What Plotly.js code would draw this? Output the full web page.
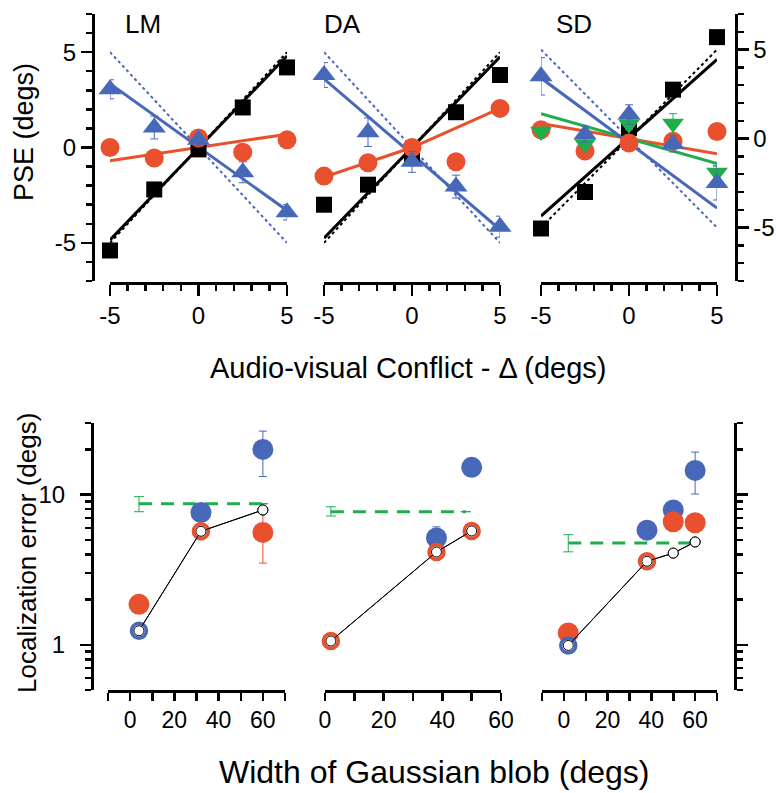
<!DOCTYPE html>
<html>
<head>
<meta charset="utf-8">
<script src="https://cdn.plot.ly/plotly-3.0.1.min.js"></script>
<style>html,body{margin:0;padding:0;background:#fff;}#chart{width:776px;height:793px;}</style>
</head>
<body>
<div id="chart"></div>
<script>
// ---------- DATA ----------
const conflict = [-5, -2.5, 0, 2.5, 5];
const fitX = [-5, 5];
const fitX3 = [-5, 0, 5];

// LM panel (PSE, degs)
const lmBlack = [-5.4, -2.2, -0.1, 2.1, 4.2];
const lmRed   = [0.0, -0.55, 0.5, -0.25, 0.4];
const lmBlue  = [3.05, 1.05, 0.4, -1.3, -3.4];
const lmBlueErr = [0.5, 0.6, 0.3, 0.55, 0.4];
const lmBlackFit = [-4.85, 4.8];
const lmRedFit = [-0.7, 0.7];
const lmBlueFit = [3.35, -3.3];

// DA panel
const daBlack = [-3.0, -1.95, -0.5, 1.85, 3.8];
const daRed   = [-1.5, -0.8, 0.0, -0.75, 2.05];
const daBlue  = [3.8, 0.8, -0.75, -2.05, -4.15];
const daBlueErr = [0.65, 0.75, 0.55, 0.6, 0.55];
const daBlackFit = [-4.75, 4.75];
const daRedFit = [-1.55, 0.0, 2.05];
const daBlueFit = [3.6, -4.3];

// SD panel (read against right-hand axis)
const sdBlack = [-5.05, -3.0, 0.6, 2.75, 5.7];
const sdRed   = [0.5, -0.7, -0.25, -0.15, 0.4];
const sdGreen = [0.4, -0.3, 0.8, 0.85, -1.9];
const sdGreenErr = [0.3, 0.3, 0.3, 0.55, 0.4];
const sdBlue  = [3.5, 0.25, 1.35, -0.3, -2.5];
const sdBlueErr = [1.05, 0.45, 0.55, 0.45, 0.95];
const sdBlackFit = [-4.35, 4.45];
const sdRedFit = [0.85, -0.85];
const sdGreenFit = [1.4, -1.4];
const sdBlueFit = [3.4, -3.9];

// ideal (dotted) predictions
const idealVisual = [-5, 5];
const idealAuditory = [5, -5];

// Bottom: localization error (degs) vs blob width (degs)
// LM
const lmW = [4, 32, 60];
const lmGreenX = [4, 60];   const lmGreenY = [8.7, 8.7]; const lmGreenErrP = [1.0, 0]; const lmGreenErrM = [1.0, 0];
const lmBlueFX = [32, 60];  const lmBlueFY = [7.6, 20];  const lmBlueFErrP = [0, 6.5]; const lmBlueFErrM = [0, 6.8];
const lmRedFX = [4, 60];    const lmRedFY = [1.86, 5.6]; const lmRedFErrP = [0, 2.0];  const lmRedFErrM = [0, 2.1];
const lmBlueRX = [4];       const lmBlueRY = [1.24];     const lmBlueRErrP = [0.26];   const lmBlueRErrM = [0.3];
const lmRedRX = [32];       const lmRedRY = [5.7];
const lmModel = [1.24, 5.7, 7.9];
// DA
const daW = [2, 38, 50];
const daGreenX = [2, 48];   const daGreenY = [7.7, 7.7]; const daGreenErrP = [0.6, 0]; const daGreenErrM = [0.5, 0];
const daBlueFX = [38, 50];  const daBlueFY = [5.15, 15.2]; const daBlueFErrP = [0.95, 0]; const daBlueFErrM = [0, 0];
const daRedRY = [1.06, 4.15, 5.73]; const daRedRErrP = [0.18, 0, 0]; const daRedRErrM = [0.22, 0, 0];
const daModel = [1.06, 4.15, 5.73];
// SD
const sdW = [2, 38, 50, 60];
const sdGreenX = [2, 59];   const sdGreenY = [4.76, 4.76]; const sdGreenErrP = [0.65, 0]; const sdGreenErrM = [0.6, 0];
const sdBlueFX = [38, 50, 60]; const sdBlueFY = [5.8, 7.9, 14.5]; const sdBlueFErrP = [0, 0, 4.7]; const sdBlueFErrM = [0, 0, 4.4];
const sdRedFX = [2, 50, 60]; const sdRedFY = [1.2, 6.6, 6.5]; const sdRedFErrP = [0, 0.5, 0.6]; const sdRedFErrM = [0, 0, 0];
const sdBlueRX = [2];       const sdBlueRY = [0.99];
const sdRedRX = [38];       const sdRedRY = [3.6];
const sdModel = [0.99, 3.6, 4.08, 4.84];

// ---------- STYLE ----------
const BLUE = '#4767b8', RED = '#e8502e', GREEN = '#1fae4b', BLACK = '#000000';
const W = 776, H = 793;
const px = v => v / W, py = v => 1 - v / H;
const traces = [];

function line(x, y, xa, ya, color, width, dash) {
  traces.push({x, y, xaxis: xa, yaxis: ya, mode: 'lines', line: {color, width, dash: dash || 'solid'}, hoverinfo: 'skip', showlegend: false, cliponaxis: false});
}
function pts(x, y, xa, ya, symbol, size, color, err, opts) {
  const t = {x, y, xaxis: xa, yaxis: ya, mode: 'markers', showlegend: false, cliponaxis: false,
    marker: Object.assign({symbol, size, color, line: {width: 0}}, opts || {})};
  if (err) t.error_y = Object.assign({type: 'data', color: err.color || color, thickness: 1, width: 4, visible: true}, err);
  traces.push(t);
}

// Top panels
function topPanel(xa, ya, black, red, blue, blueErr, blackFit, redFit, redFitX, blueFit, green, greenErr, greenFit) {
  line(fitX, idealAuditory, xa, ya, BLUE, 2, 'dot');
  line(fitX, idealVisual, xa, ya, BLACK, 2, 'dot');
  line(fitX, blackFit, xa, ya, BLACK, 3);
  line(redFitX, redFit, xa, ya, RED, 3);
  if (greenFit) line(fitX, greenFit, xa, ya, GREEN, 3);
  line(fitX, blueFit, xa, ya, BLUE, 3);
  pts(conflict, black, xa, ya, 'square', 16, BLACK);
  pts(conflict, red, xa, ya, 'circle', 19, RED);
  if (green) pts(conflict, green, xa, ya, 'triangle-down', 19, GREEN, {array: greenErr});
  pts(conflict, blue, xa, ya, 'triangle-up', 20, BLUE, {array: blueErr});
}
topPanel('x', 'y', lmBlack, lmRed, lmBlue, lmBlueErr, lmBlackFit, lmRedFit, fitX, lmBlueFit);
topPanel('x2', 'y', daBlack, daRed, daBlue, daBlueErr, daBlackFit, daRedFit, fitX3, daBlueFit);
topPanel('x3', 'y4', sdBlack, sdRed, sdBlue, sdBlueErr, sdBlackFit, sdRedFit, fitX, sdBlueFit, sdGreen, sdGreenErr, sdGreenFit);

// Bottom panels
function ring(x, y, xa, ya, color, err) {
  pts(x, y, xa, ya, 'circle', 15, '#ffffff', err, {line: {color, width: 3.5}});
}
function model(x, y, xa, ya) {
  traces.push({x, y, xaxis: xa, yaxis: ya, mode: 'lines+markers', showlegend: false, cliponaxis: false, hoverinfo: 'skip',
    line: {color: BLACK, width: 1}, marker: {symbol: 'circle', size: 10, color: '#ffffff', line: {color: BLACK, width: 1}}});
}
function green(x, y, ep, em, xa, ya) {
  traces.push({x, y, xaxis: xa, yaxis: ya, mode: 'lines', showlegend: false, cliponaxis: false, hoverinfo: 'skip',
    line: {color: GREEN, width: 3, dash: '13px,9px'},
    error_y: {type: 'data', symmetric: false, array: ep, arrayminus: em, color: GREEN, thickness: 1, width: 5}});
}
// LM
green(lmGreenX, lmGreenY, lmGreenErrP, lmGreenErrM, 'x4', 'y2');
pts(lmBlueFX, lmBlueFY, 'x4', 'y2', 'circle', 21, BLUE, {symmetric: false, array: lmBlueFErrP, arrayminus: lmBlueFErrM});
pts(lmRedFX, lmRedFY, 'x4', 'y2', 'circle', 21, RED, {symmetric: false, array: lmRedFErrP, arrayminus: lmRedFErrM});
model(lmW, lmModel, 'x4', 'y2');
ring(lmBlueRX, lmBlueRY, 'x4', 'y2', BLUE, {symmetric: false, array: lmBlueRErrP, arrayminus: lmBlueRErrM});
ring(lmRedRX, lmRedRY, 'x4', 'y2', RED);
model(lmW, lmModel, 'x4', 'y2');
// DA
green(daGreenX, daGreenY, daGreenErrP, daGreenErrM, 'x5', 'y2');
pts(daBlueFX, daBlueFY, 'x5', 'y2', 'circle', 21, BLUE, {symmetric: false, array: daBlueFErrP, arrayminus: daBlueFErrM});
model(daW, daModel, 'x5', 'y2');
ring(daW, daRedRY, 'x5', 'y2', RED, {symmetric: false, array: daRedRErrP, arrayminus: daRedRErrM});
model(daW, daModel, 'x5', 'y2');
// SD
green(sdGreenX, sdGreenY, sdGreenErrP, sdGreenErrM, 'x6', 'y3');
pts(sdBlueFX, sdBlueFY, 'x6', 'y3', 'circle', 21, BLUE, {symmetric: false, array: sdBlueFErrP, arrayminus: sdBlueFErrM});
pts(sdRedFX, sdRedFY, 'x6', 'y3', 'circle', 21, RED, {symmetric: false, array: sdRedFErrP, arrayminus: sdRedFErrM});
model(sdW, sdModel, 'x6', 'y3');
ring(sdBlueRX, sdBlueRY, 'x6', 'y3', BLUE);
ring(sdRedRX, sdRedRY, 'x6', 'y3', RED);
model(sdW, sdModel, 'x6', 'y3');

// ---------- LAYOUT ----------
const FONT = 'Liberation Sans, Arial, sans-serif';
const NARROW = 'Liberation Sans Narrow, Liberation Sans, Arial, sans-serif';
const axBase = {showgrid: false, zeroline: false, showline: true, linecolor: '#000', linewidth: 2.5,
  ticks: 'outside', tickcolor: '#000', tickwidth: 2.5, fixedrange: true, anchor: 'free'};
function topX(d0, d1) {
  return Object.assign({}, axBase, {domain: [px(d0), px(d1)], range: [-5, 5], position: py(283),
    tickmode: 'array', tickvals: [-5, 0, 5], ticktext: ['-5', '0', '5'], ticklen: 11,
    minor: {dtick: 1, tick0: 0, ticklen: 6, tickwidth: 2.5, tickcolor: '#000', ticks: 'outside'},
    tickfont: {family: FONT, size: 24, color: '#000'}});
}
function botX(d0, d1, r) {
  return Object.assign({}, axBase, {domain: [px(d0), px(d1)], range: r, position: py(691),
    tickmode: 'array', tickvals: [0, 20, 40, 60], ticklen: 8,
    minor: {dtick: 10, tick0: 0, ticklen: 8, tickwidth: 2.5, tickcolor: '#000', ticks: 'outside'},
    tickfont: {family: NARROW, size: 23, color: '#000'}});
}
const logMinor = [0.5, 0.6, 0.7, 0.8, 0.9, 2, 3, 4, 5, 6, 7, 8, 9, 20, 30];
const ann = (text, x, y, size, angle) => ({text, x: px(x), y: py(y), xref: 'paper', yref: 'paper', showarrow: false,
  xanchor: 'center', yanchor: 'middle', textangle: angle || 0, font: {family: FONT, size, color: '#000'}});
const layout = {
  width: W, height: H, margin: {l: 0, r: 0, t: 0, b: 0},
  paper_bgcolor: '#fff', plot_bgcolor: 'rgba(0,0,0,0)', showlegend: false,
  xaxis: topX(110, 287),
  xaxis2: topX(324, 500),
  xaxis3: topX(541, 717),
  xaxis4: botX(108, 285, [-10, 70]),
  xaxis5: botX(325, 501, [0, 60]),
  xaxis6: botX(542, 717, [-10, 70]),
  yaxis: Object.assign({}, axBase, {domain: [py(281), py(14)], range: [-7, 7], position: px(93), side: 'left',
    tickmode: 'array', tickvals: [-5, 0, 5], ticktext: ['-5', '0', '5'], ticklen: 11,
    minor: {dtick: 1, tick0: 0, ticklen: 6, tickwidth: 2.5, tickcolor: '#000', ticks: 'outside'},
    tickfont: {family: FONT, size: 24, color: '#000'}}),
  yaxis4: Object.assign({}, axBase, {domain: [py(282), py(13)], range: [-8, 7], position: px(736), side: 'right', overlaying: 'y',
    tickmode: 'array', tickvals: [-5, 0, 5], ticktext: ['-5', '0', '5'], ticklen: 11,
    minor: {dtick: 1, tick0: 0, ticklen: 6, tickwidth: 2.5, tickcolor: '#000', ticks: 'outside'},
    tickfont: {family: FONT, size: 24, color: '#000'}}),
  yaxis2: Object.assign({}, axBase, {domain: [py(690), py(423)], type: 'log', range: [Math.log10(0.5), Math.log10(30)], position: px(92), side: 'left',
    tickmode: 'array', tickvals: [1, 10], ticktext: ['1', '10'], ticklen: 11, ticklabelstandoff: 10,
    minor: {tickmode: 'array', tickvals: logMinor, ticklen: 6, tickwidth: 2.5, tickcolor: '#000', ticks: 'outside'},
    tickfont: {family: FONT, size: 24, color: '#000'}}),
  yaxis3: Object.assign({}, axBase, {domain: [py(690), py(423)], type: 'log', range: [Math.log10(0.5), Math.log10(30)], position: px(735), side: 'right', overlaying: 'y2',
    tickmode: 'array', tickvals: [1, 10], showticklabels: false, ticklen: 11,
    minor: {tickmode: 'array', tickvals: logMinor, ticklen: 6, tickwidth: 2.5, tickcolor: '#000', ticks: 'outside'}}),
  annotations: [
    ann('LM', 143, 24, 26),
    ann('DA', 342, 24, 26),
    ann('SD', 574, 24, 26),
    ann('PSE (degs)', 24, 132, 27, -90),
    ann('Audio-visual Conflict - \u0394 (degs)', 408, 368, 29),
    ann('Localization error (degs)', 27, 553, 26, -90),
    ann('Width of Gaussian blob (degs)', 434, 772, 32)
  ]
};
Plotly.newPlot('chart', traces, layout, {staticPlot: true, displayModeBar: false});
</script>
</body>
</html>
